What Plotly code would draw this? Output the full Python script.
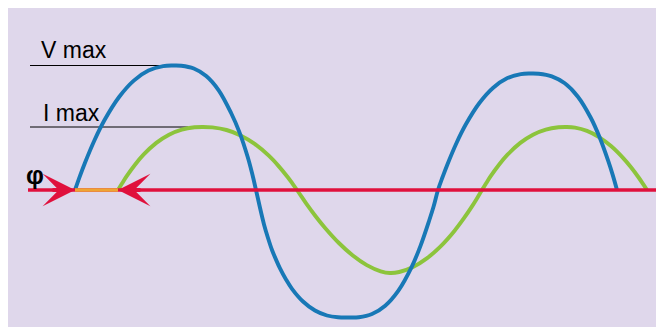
import plotly.graph_objects as go

# ---- data (time units, amplitude units; time axis at 0) ----
v_t = [75, 79.9, 84.8, 94.6, 104.4, 119.1, 133.8, 148.5, 163.2, 173,
       181.3, 193.8, 206.2, 218.7, 231.1, 239.4, 247.7, 251.9, 256,
       260, 264, 268, 272, 276, 280, 286, 292, 303, 315, 327, 338, 350,
       358.8, 372, 385.2, 398.4, 411.6, 420.4, 429.2, 433.6, 438,
       442.6, 447.2, 456.4, 465.6, 479.4, 493.2, 507, 520.8, 530,
       538.7, 551.8, 564.8, 577.9, 590.9, 599.6, 608.3, 612.7, 617]
v_amp = [0, 13.9, 26.8, 50.0, 69.7, 93.0, 109.4, 119.4, 123.9, 124.5,
         124.3, 121.5, 114.0, 99.7, 77.0, 57.9, 33.0, 17.5, 0,
         -17.8, -34.4, -48, -60, -69.6, -78.4, -89.5, -98.8, -111.5, -120.5, -125.5, -127.3, -127.5,
         -127.2, -124.0, -115.7, -100.6, -77.1, -56.1, -30.5, -16.5, 0,
         13.0, 25.1, 46.8, 65.2, 87.0, 102.3, 111.7, 115.9, 116.5,
         116.3, 113.7, 106.7, 93.3, 72.0, 52.7, 28.8, 15.1, 0]

i_t = [118, 122.3, 126.5, 135, 143.5, 156.3, 169, 181.8, 194.5, 203,
       212.4, 226.5, 240.6, 254.7, 268.8, 278.2, 287.6, 292.3, 297,
       301.7, 306.3, 315.6, 324.9, 338.9, 352.8, 366.8, 380.7, 390,
       399.2, 413, 426.8, 440.6, 454.4, 463.6, 472.8, 477.4, 482,
       486.3, 490.5, 499, 507.5, 520.3, 533, 545.8, 558.5, 567,
       575, 587, 599, 611, 623, 631, 639, 643, 647]
i_amp = [0, 7.0, 13.6, 25.3, 35.3, 47.1, 55.3, 60.4, 62.7, 63,
         62.6, 60.0, 54.6, 46.1, 34.3, 24.4, 13.0, 6.7, 0,
         -6.9, -13.6, -26.2, -37.7, -53.0, -65.5, -75.1, -81.3, -83,
         -82.0, -77.0, -68.4, -56.3, -40.9, -28.7, -15.1, -7.7, 0,
         7.0, 13.6, 25.3, 35.3, 47.1, 55.3, 60.4, 62.7, 63,
         62.4, 59.1, 52.9, 43.9, 32.1, 22.7, 12.0, 6.1, 0]

axis_t = [28, 658]
phase_t = [v_t[0], i_t[0]]

labels = ["V max", "I max", "φ"]

VMAX = max(v_amp)
IMAX = max(i_amp)

# ---- colours ----
BG = "#dfd7eb"
BLUE = "#1878b6"
GREEN = "#8cc43c"
RED = "#e0103c"
ORANGE = "#eea534"

fig = go.Figure()

# reference lines for the maxima
fig.add_trace(go.Scatter(x=[30, 170], y=[VMAX, VMAX], mode="lines",
                         line=dict(color="black", width=1), hoverinfo="skip"))
fig.add_trace(go.Scatter(x=[30, 188], y=[IMAX, IMAX], mode="lines",
                         line=dict(color="black", width=1), hoverinfo="skip"))

# current (green) and voltage (blue)
fig.add_trace(go.Scatter(x=i_t, y=i_amp, mode="lines",
                         line=dict(color=GREEN, width=3.9, shape="spline", smoothing=1),
                         hoverinfo="skip"))
fig.add_trace(go.Scatter(x=v_t, y=v_amp, mode="lines",
                         line=dict(color=BLUE, width=3.9, shape="spline", smoothing=1),
                         hoverinfo="skip"))

# time axis
fig.add_trace(go.Scatter(x=axis_t, y=[0, 0], mode="lines",
                         line=dict(color=RED, width=3.7), hoverinfo="skip"))
# phase shift segment
fig.add_trace(go.Scatter(x=phase_t, y=[0, 0], mode="lines",
                         line=dict(color=ORANGE, width=3.7), hoverinfo="skip"))

annotations = [
    dict(x=phase_t[0], y=0, ax=-24, ay=0, text="", showarrow=True,
         arrowhead=3, arrowsize=1.35, arrowwidth=4, arrowcolor=RED, standoff=0),
    dict(x=phase_t[1], y=0, ax=24, ay=0, text="", showarrow=True,
         arrowhead=3, arrowsize=1.35, arrowwidth=4, arrowcolor=RED, standoff=0),
    dict(x=39, y=140.5, text=labels[0], showarrow=False, xanchor="left", yanchor="middle",
         font=dict(family="Liberation Sans, Arial", size=23, color="black")),
    dict(x=41, y=77, text=labels[1], showarrow=False, xanchor="left", yanchor="middle",
         font=dict(family="Liberation Sans, Arial", size=23, color="black")),
    dict(x=35, y=15, text="<b>" + labels[2] + "</b>", showarrow=False,
         xanchor="center", yanchor="middle",
         font=dict(family="Liberation Sans, Arial", size=25, color="black")),
]

fig.update_layout(
    width=664, height=327,
    margin=dict(l=0, r=0, t=0, b=0),
    paper_bgcolor=BG,
    plot_bgcolor=BG,
    showlegend=False,
    annotations=annotations,
    xaxis=dict(range=[8, 672], visible=False, fixedrange=True),
    yaxis=dict(range=[-145, 182], visible=False, fixedrange=True),
)

fig.write_html("out.html")
